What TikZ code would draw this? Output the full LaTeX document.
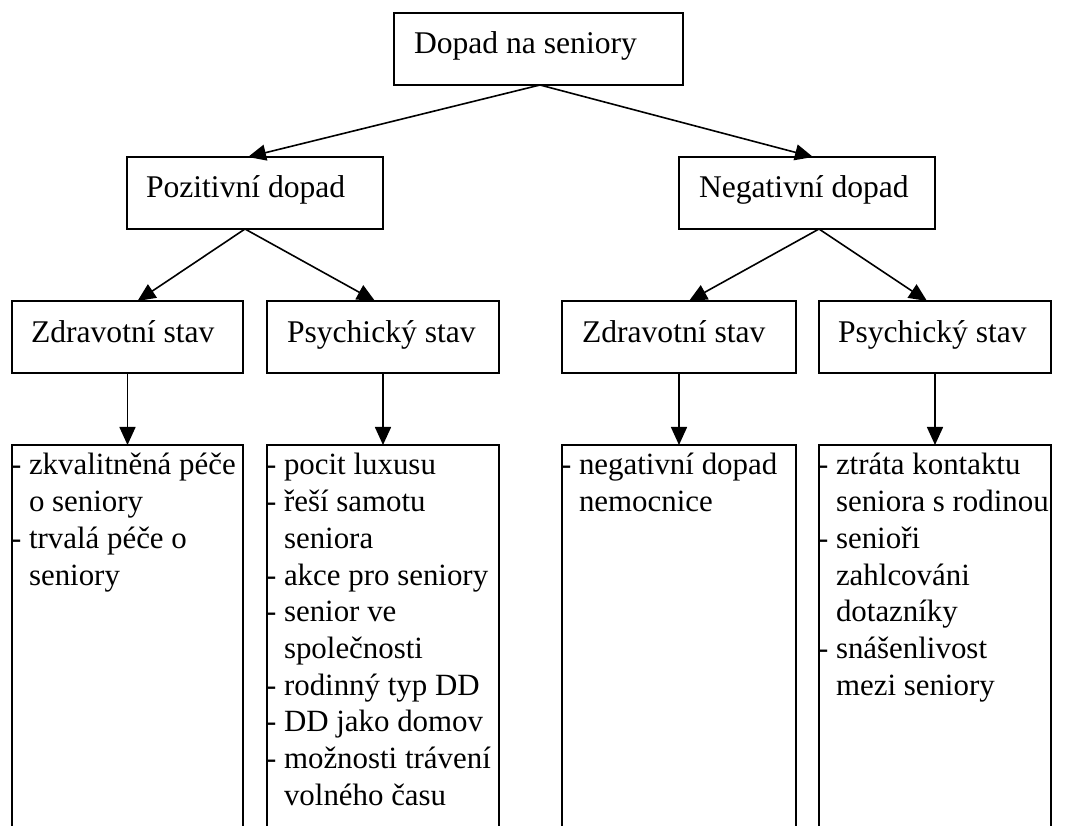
\documentclass[tikz,border=0pt]{standalone}
\usepackage{fontspec}
\setmainfont{Liberation Serif}
\usetikzlibrary{arrows.meta,calc}
\newcommand{\bl}{-\ }
\newcommand{\ind}{\phantom{-\ }}
\begin{document}
\begin{tikzpicture}[x=1pt,y=-1pt,
  box/.style={draw,line width=1.7pt,rectangle,anchor=north west,inner sep=0pt,outer sep=0pt},
  lbl/.style={anchor=base west,inner sep=0pt,outer sep=0pt,font=\fontsize{31.6}{36.7}\selectfont},
  lst/.style={anchor=base west,inner sep=0pt,outer sep=0pt,font=\fontsize{30.9}{36.7}\selectfont},
  conn/.style={line width=1.6pt,-{Triangle[length=18pt,width=16pt]}}]
\useasboundingbox (0,0) rectangle (1069,826);
\clip (0,0) rectangle (1069,826);
% level 1 and 2
\node[box,minimum width=289pt,minimum height=72pt] (top) at (394,13) {};
\node[box,minimum width=256pt,minimum height=72pt] (pos) at (127,157) {};
\node[box,minimum width=256pt,minimum height=72pt] (neg) at (679,157) {};
% level 3
\node[box,minimum width=231pt,minimum height=72pt] (zs1) at (12,301) {};
\node[box,minimum width=232pt,minimum height=72pt] (ps1) at (267,301) {};
\node[box,minimum width=234pt,minimum height=72pt] (zs2) at (562,301) {};
\node[box,minimum width=232pt,minimum height=72pt] (ps2) at (819,301) {};
% bottom boxes (open below)
\node[box,minimum width=231pt,minimum height=420pt] (b1) at (12,445) {};
\node[box,minimum width=232pt,minimum height=420pt] (b2) at (267,445) {};
\node[box,minimum width=234pt,minimum height=420pt] (b3) at (562,445) {};
\node[box,minimum width=232pt,minimum height=420pt] (b4) at (819,445) {};
% labels
\node[lbl] (ttop) at ($(top.north west)+(20,41)$) {Dopad na seniory};
\node[lbl] (tpos) at ($(pos.north west)+(19,41)$) {Pozitivní dopad};
\node[lbl] (tneg) at ($(neg.north west)+(20,41)$) {Negativní dopad};
\node[lbl] (tzs1) at ($(zs1.north west)+(19,42)$) {Zdravotní stav};
\node[lbl] (tps1) at ($(ps1.north west)+(20,42)$) {Psychický stav};
\node[lbl] (tzs2) at ($(zs2.north west)+(20,42)$) {Zdravotní stav};
\node[lbl] (tps2) at ($(ps2.north west)+(19,42)$) {Psychický stav};
\node[lst] (tb1) at ($(b1.north west)+(-1,30)$) {\begin{tabular}[t]{@{}l@{}}
\bl zkvalitněná péče\\ \ind o seniory\\ \bl trvalá péče o\\ \ind seniory\end{tabular}};
\node[lst] (tb2) at ($(b2.north west)+(-1,30)$) {\begin{tabular}[t]{@{}l@{}}
\bl pocit luxusu\\ \bl řeší samotu\\ \ind seniora\\ \bl akce pro seniory\\ \bl senior ve\\ \ind společnosti\\ \bl rodinný typ DD\\ \bl DD jako domov\\ \bl možnosti trávení\\ \ind volného času\end{tabular}};
\node[lst] (tb3) at ($(b3.north west)+(-1,30)$) {\begin{tabular}[t]{@{}l@{}}
\bl negativní dopad\\ \ind nemocnice\end{tabular}};
\node[lst] (tb4) at ($(b4.north west)+(-1,30)$) {\begin{tabular}[t]{@{}l@{}}
\bl ztráta kontaktu\\ \ind seniora s rodinou\\ \bl senioři\\ \ind zahlcováni\\ \ind dotazníky\\ \bl snášenlivost\\ \ind mezi seniory\end{tabular}};
% connectors
\draw[conn] ([xshift=1.5pt]top.south) -- ([xshift=-7pt]pos.north);
\draw[conn] ([xshift=1.5pt]top.south) -- ([xshift=6pt]neg.north);
\draw[conn] ([xshift=-10pt]pos.south) -- ([xshift=10pt]zs1.north);
\draw[conn] ([xshift=-10pt]pos.south) -- ([xshift=-8pt]ps1.north);
\draw[conn] ([xshift=12pt]neg.south) -- ([xshift=10pt]zs2.north);
\draw[conn] ([xshift=12pt]neg.south) -- ([xshift=-8pt]ps2.north);
\draw[conn] (zs1.south) -- (b1.north);
\draw[conn] (ps1.south) -- (b2.north);
\draw[conn] (zs2.south) -- (b3.north);
\draw[conn] (ps2.south) -- (b4.north);
\end{tikzpicture}
\end{document}
